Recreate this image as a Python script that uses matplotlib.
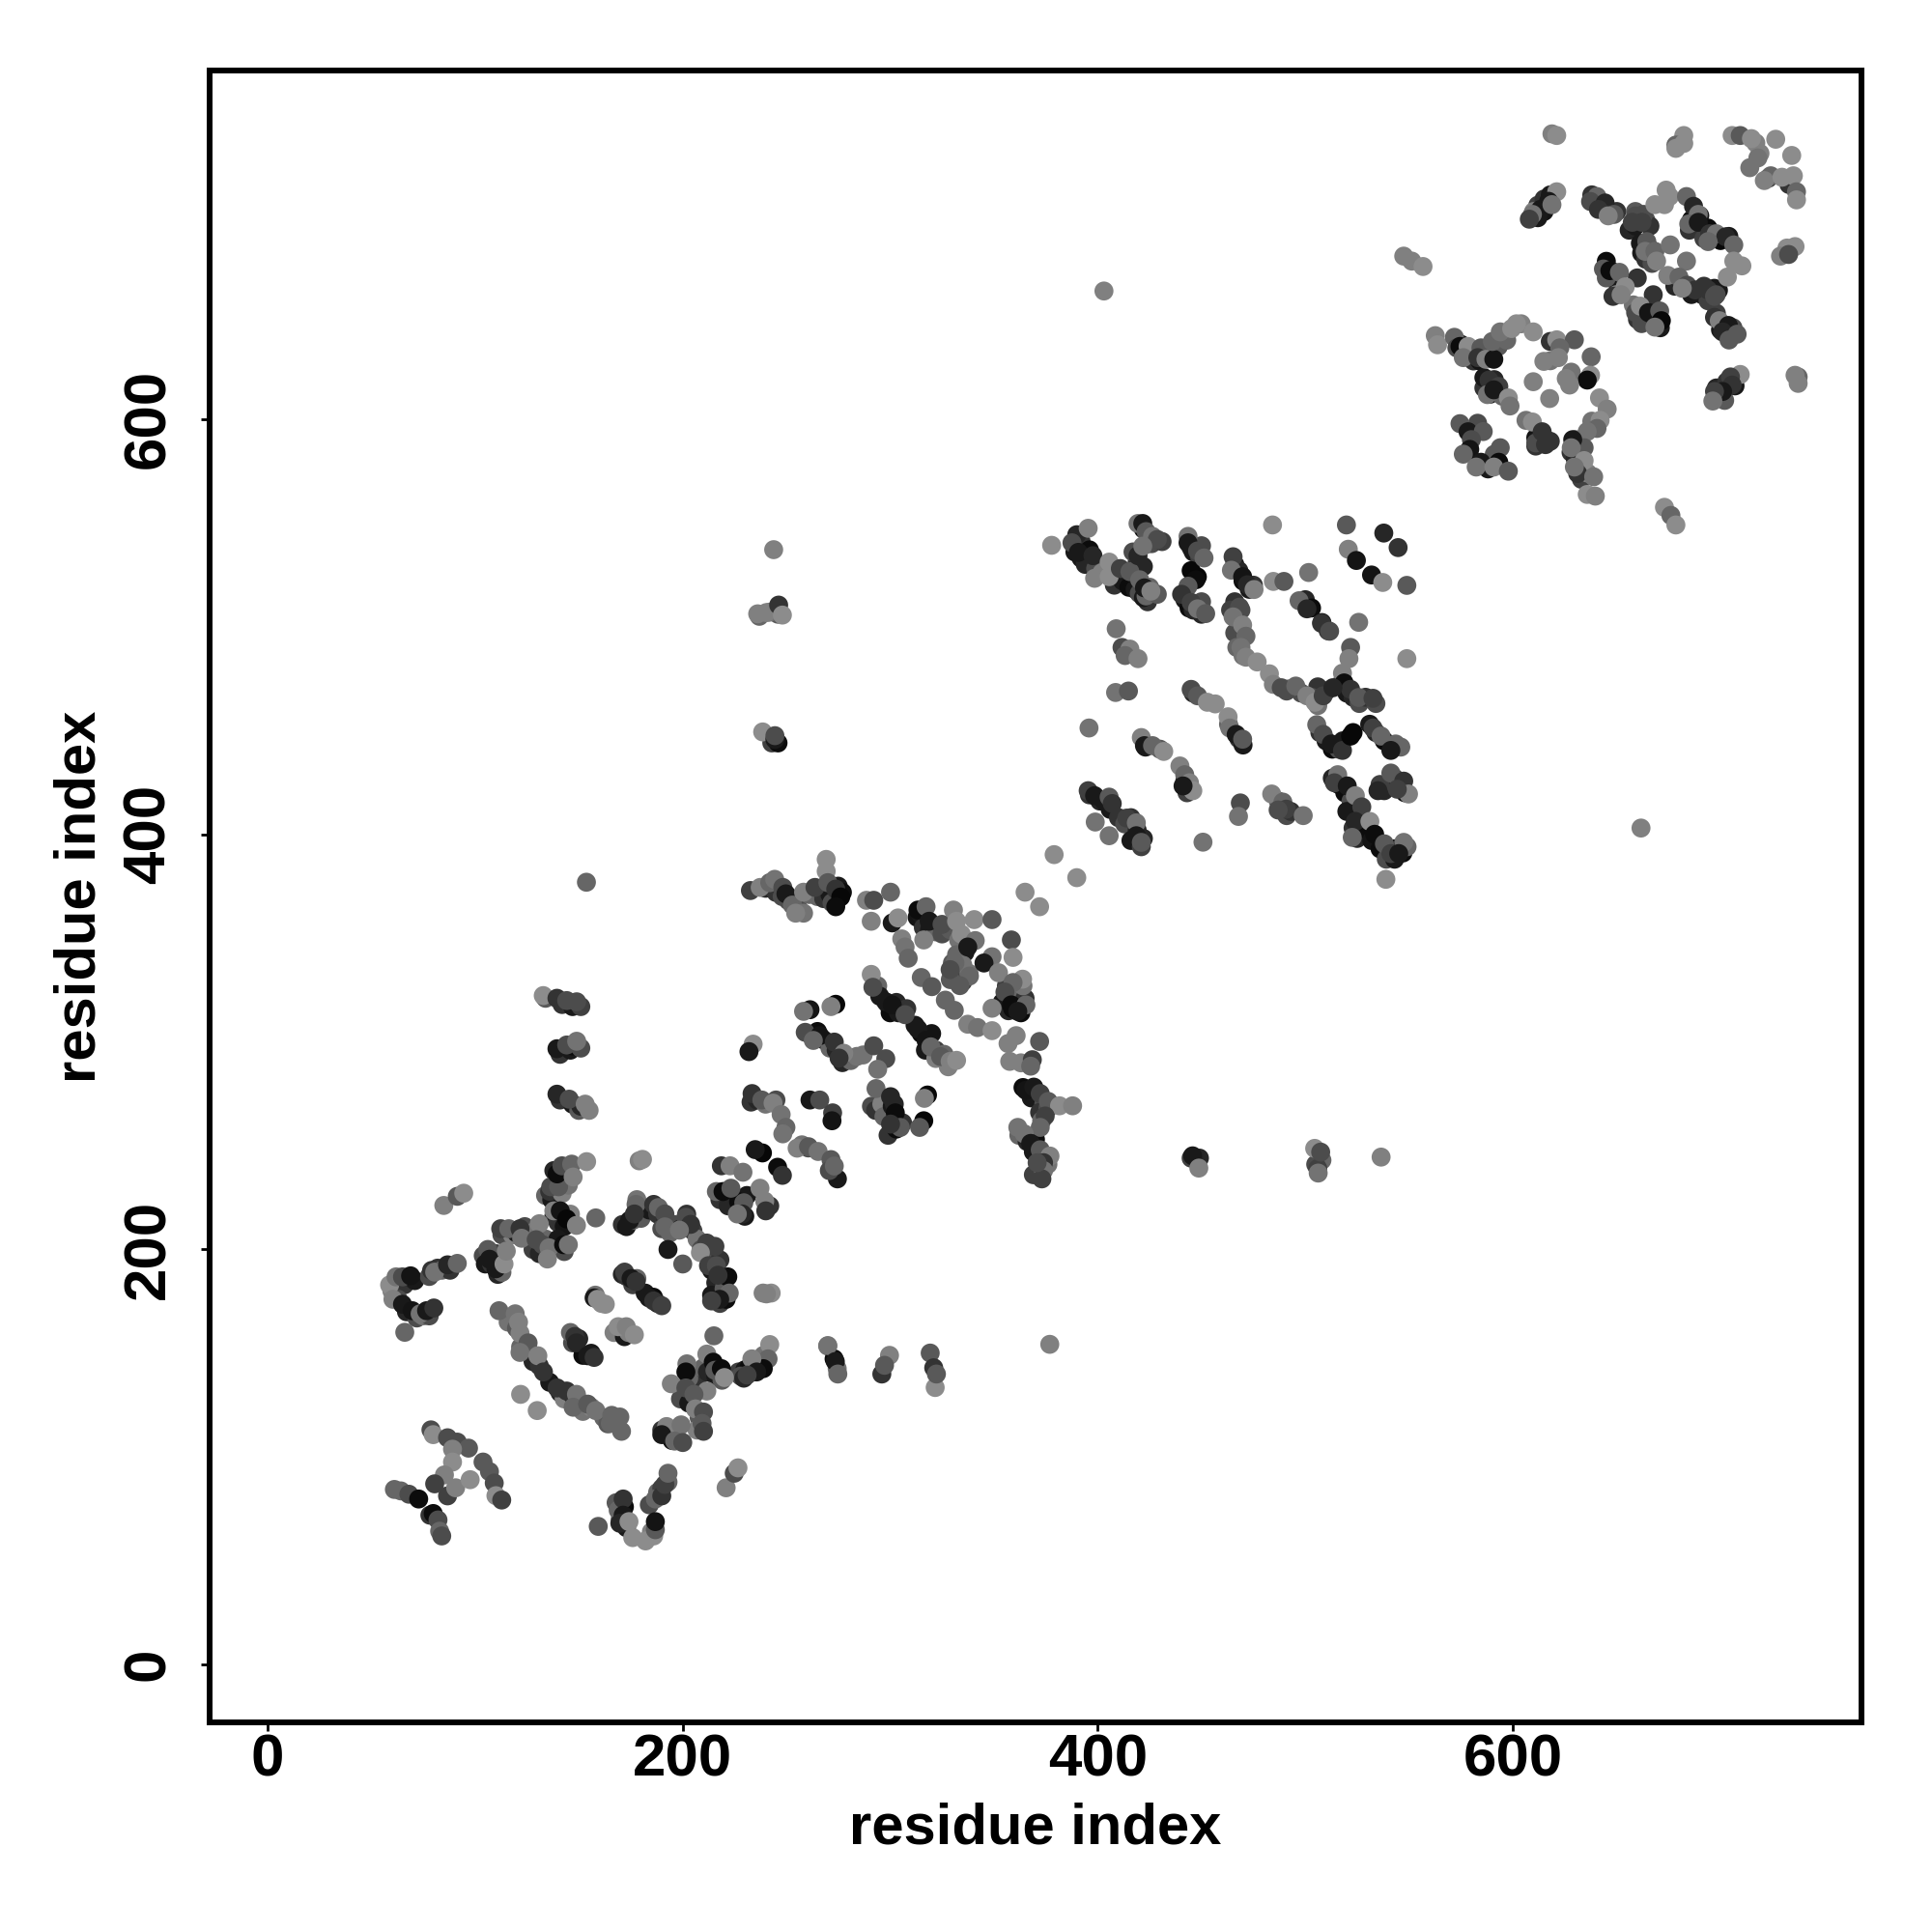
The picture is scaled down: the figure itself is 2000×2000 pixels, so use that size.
import matplotlib
matplotlib.use("Agg")
import matplotlib.pyplot as plt
import numpy as np

# values: residue i, residue j, grey level of the dot
x_a = [61.2,64.3,68.2,72.9,78.3,79.9,82.2,83,84,78.8,79.9,86.8,91.5,96.9,89.2,89.2,85.3,80.6,86.8,90.7,97.7,103.9,107,109.3,110.1,112.9]
y_a = [84.4,83.7,82.1,79.8,72,72.8,69.7,64.3,62,113.1,110.8,109.3,107.2,104.3,103.8,97.6,91.4,87.1,81.3,85.2,89.1,97.6,93,87.5,81.4,79.3]
g_a = [.4,.4,.3,.05,.2,.05,.3,.4,.3,.3,.55,.3,.3,.35,.5,.55,.5,.25,.25,.5,.55,.35,.35,.3,.55,.25]

x_b = [159.4,169,171.4,171.4,169.8,174.2,176,182.2,186.1,186.9,186.9,186.9,190,191.5,193,221,224.9,226.7,122,130]
y_b = [66.6,74.4,79.8,72,68.1,68.9,61.2,59.6,62,65,68.9,79.8,81.3,86.8,92.2,85.2,92.2,94.8,130.2,122.4]
g_b = [.35,.4,.2,.1,.15,.55,.55,.55,.55,.35,.08,.4,.2,.25,.4,.5,.3,.55,.55,.55]

x_c = [85,91.5,94.6,58.9,62,65.1,69,60.5,65.1,69.8,73.6,76.7,80.2,66.2,79.1,80.6,86.8,91.5,106.2,107,110.1,114,115.1,112.4,116.3,121.7,122.5,131,129.5,132.6,135.7,134.9,142.7,145,138,141.1,144.2,148.9,158.2,136.5,140.3,139.6,141.9,146.6,147.3,153.8,179.1,180.7]
y_c = [221.2,225.6,227.1,182.9,186.8,186.8,187.3,176,173.6,170.5,169,170.5,171.8,160.1,189.9,189.1,192.6,193.3,200,195.3,190.7,193,199.2,210,210,210,205.4,212.4,204.7,202.3,200.8,195.4,202.3,202.3,218.6,218.6,214.7,211.6,215.2,230.2,230.2,236.4,240.3,241.1,234.9,242.3,242.7,243.4]
g_c = [.5,.35,.55,.55,.45,.3,.08,.5,.1,.08,.45,.1,.2,.4,.2,.45,.15,.4,.35,.1,.1,.55,.5,.25,.4,.2,.45,.5,.3,.3,.45,.5,.05,.45,.5,.08,.03,.5,.4,.3,.35,.05,.3,.4,.5,.55,.5,.55]

x_d = [174.5,177.6,176.8,186.1,188.4,191.5,191.5,201.6,203.9,198.5,193,200.1,211.7,215.6,208.6,212.5,216.3,221.8,217.1,222.5,217.9,214,218.7,222.9,229.1,238.5,235,245.8,248.1,216.3,219.5,223.3,229.5,228.8,226.4,237.3,239.6,240.1,257.5,260.6,269.9,273,274.5,242.7,238.8]
y_d = [214,221.7,217.1,221.7,220.2,217.1,210.9,215.5,212.1,209.3,200,193,203.1,201.5,198.5,192.2,192.2,186.8,187.6,179,176,175.2,240.3,240.3,237.2,246.5,248.1,239.6,235.7,227.9,227.9,229.5,222.5,217.1,217.1,229.5,223.3,218.6,250.4,248.9,153.5,147.3,142.6,179,179]
g_d = [.1,.4,.2,.2,.4,.3,.4,.3,.2,.45,.1,.35,.25,.25,.55,.25,.3,.05,.2,.4,.1,.25,.2,.5,.45,.03,.1,.05,.2,.4,.05,.35,.35,.15,.45,.5,.5,.2,.45,.3,.45,.05,.45,.55,.5]

x_e = [172.1,175.2,177.6,183.8,186.1,190,157.4,159,162.8,169,172.9,176.8,148.1,148.9,154.3,157.4,111.6,119.4,121,121.7,125.6,121.7,130.3,133,139.6,144.2,148.9,147.3,154.3,158.2,165.9,169.8,170.6,165.2]
y_e = [189.1,186,184.5,176.7,175.2,172.9,176.7,176,173.6,162.8,162.8,158.9,158.1,155,148.8,148,170.5,169,165,159.7,155,150.4,148.8,141,133.3,131.8,130.2,124,125.5,122.4,120.1,119.3,112.4,116.2]
g_e = [.25,.1,.2,.1,.2,.25,.1,.55,.55,.55,.5,.55,.2,.15,.1,.2,.4,.45,.5,.5,.35,.45,.5,.2,.2,.2,.45,.4,.35,.45,.4,.4,.4,.4]

x_f = [215.1,242,241.2,238.9,233.4,235.7,229.5,231.1,211.7,214.8,215.6,218.7,220.2,202.1,201.6,194.6,201.6,211.7,205.5,206.2,210.1,209.4,210.1,192.3,199.3,190,196.2,200.1,270,273.6,274.8,296,299.7,297.3,319.3,321,321.7,322.3,240.4]
y_f = [158.4,154.2,147.3,142.6,147.3,141,138,139.5,149.6,145.7,141.8,142.6,138.3,144.9,141,135.3,133.3,131.8,130.2,123.2,121.7,116.2,112.4,114.7,115.5,110.8,107.7,107,153.7,146,140,140,149,144.2,150.1,143,133.5,140,178.6]
g_f = [.4,.55,.4,.05,.5,.1,.15,.25,.5,.05,.35,.05,.55,.45,.05,.5,.3,.5,.35,.5,.3,.35,.25,.5,.45,.1,.4,.3,.45,.1,.4,.2,.5,.35,.35,.2,.55,.35,.5]

x_g = [232.7,237.4,242,244.4,248.3,249.8,252.9,258.3,254.5,258.3,263.8,269.2,269.2,270,273.8,276.2,273.8,288.6,292.1,300.2,290.9,301,303.8,313.4,317.3,318.8,325,330.5,332,340.5,349.1,334.3,341,337.4,305.6,307.2,308.7,316.2,358.4,359.2,349.1,345.2,352.2,363.8,359.2,355.3,358.4,365.4,361.5,331.2,328.9,338.2,333.6,315,320.1,326.6,330.9,349.1,337.4,342.1,349.1,360.7,356.8,372,357.6,363,368.5,367.7]
y_g = [372.9,374.4,376.7,378.3,374.4,371.3,365.9,362,362,372.1,374.4,387.9,382.2,376.7,373.6,369.8,365.1,368.2,368.2,372.1,358.1,357.3,359.7,363.5,365.1,358.1,356.6,363.5,358.1,358.9,358.9,351.9,348.8,345.7,349.6,345.7,340.3,349.1,349.1,340.7,341,338,333.3,330.2,328.6,324,317.8,317.8,314.7,338,334.8,331.7,327.1,331,326.6,320.1,315.2,316.2,308.5,306.9,305.4,303,299.2,300.2,290.6,289.9,291.4,288.3]
g_g = [.25,.5,.4,.45,.3,.1,.4,.45,.5,.5,.25,.55,.55,.35,.2,.03,.05,.5,.3,.4,.5,.1,.55,.05,.4,.1,.3,.5,.55,.55,.35,.55,.45,.1,.5,.45,.4,.5,.3,.55,.45,.1,.5,.55,.4,.3,.05,.4,.1,.4,.3,.4,.35,.4,.35,.4,.4,.5,.5,.45,.55,.5,.5,.35,.5,.5,.25,.4]

x_h = [290.9,291.7,297.9,301,307.2,313.4,317.3,319.6,324.3,328.9,332,261.4,258.3,273.8,271.5,259.1,266.1,263,273.1,277.7,275.4,287,292.1,297.9,294,293.2,300.2,302.5,304.9,300.2,318,316.5,316.2,314.2,234,232,233.5,238.2,243.6,247.5,249.8,248.3,255.2,260.7,265.3,271.5,261.4,266.1,272.3,272,274.6,270.7,273.1]
y_h = [332.5,326.3,319.3,317.8,313.1,306.2,300.7,297.6,292.9,290.6,291.1,315.5,314.7,318.1,317,304.6,303,300.7,299.9,294.5,292.2,293.7,298.1,291.9,286.8,277.5,273.6,265.8,258.8,260.4,274.4,272.8,262,258.8,298.9,295.3,275.1,272,270.5,265,258.8,255.7,248.8,249.5,247.2,243.3,272,272,265.8,262,234,238,240.2]
g_h = [.55,.3,.1,.08,.3,.1,.08,.4,.35,.5,.55,.08,.45,.03,.5,.3,.08,.4,.2,.5,.2,.45,.3,.3,.45,.4,.15,.05,.35,.2,.03,.5,.03,.35,.55,.1,.2,.35,.5,.45,.4,.45,.5,.35,.45,.35,.1,.3,.25,.08,.1,.3,.4]

x_i = [365.4,369.2,372.3,376.2,381.6,387.9,374.7,372.3,361.5,364.6,367.7,372.3,377,373.9,373.9,373.1,370.8,379,389.9,365,372]
y_i = [276.7,278.2,275.1,271.3,269.2,269.2,264.3,258.8,258.8,255.7,251.1,248,245,241.8,238,234,241.8,390.2,379.1,372.1,365.1]
g_i = [.08,.1,.25,.35,.55,.5,.25,.4,.45,.45,.1,.35,.5,.2,.45,.25,.3,.55,.55,.55,.55]

x_j = [377.8,389.9,387.6,390.7,395.4,397.7,398.5,405.5,405.5,410.9,415.5,420.2,423.3,422.5,428.7,425.6,419.4,421.7,423.3,426.4,428.7,419.4,421.7,443.5,443.5,448.1,451.2,447.3,443.5,440.4,445,448.1,452,465.2,464.4,469.8,472.1,475.3,468.3,465.2,469.8,471.4,469,471.4,476.8,482.7,484.6,484.6,489.7,484.2,519.8,537.8,544.7,520.7,524.6,531.9,537.3,548.9,501.6,497,500.8,507.8,511.7,525.7,521.8,521,548.9]
y_j = [539.2,544.3,540.4,535.8,547.4,534.2,523.3,531.1,524.1,528,526.5,522.6,514.8,518.7,515.6,517.1,549.7,549.7,545.8,543.5,542,534.2,538.8,543.5,540.4,536.5,533.1,522.6,519.5,515.6,511.7,508.6,506.3,533.7,527.2,524.1,520.2,517.9,509.4,504.7,500.8,495.4,490,485.3,483,477.3,472.2,521.8,521.8,549,549,545.1,538.1,537.3,531.9,524.9,521.3,519.9,526.1,512.5,508.6,501.6,497.8,502.1,490,484.6,484.6]
g_j = [.55,.15,.3,.1,.5,.15,.5,.55,.55,.25,.35,.4,.4,.1,.35,.5,.45,.1,.35,.45,.3,.15,.45,.45,.1,.3,.4,.05,.35,.2,.25,.45,.35,.25,.45,.08,.15,.5,.3,.45,.5,.4,.45,.5,.55,.55,.5,.55,.35,.55,.35,.15,.2,.5,.08,.08,.55,.35,.45,.4,.15,.2,.3,.45,.35,.5,.55]

x_k = [517.9,518.7,521.8,525.7,532.6,488.4,495.4,500.8,504.7,508.6,513.3,505.5,508.6,512.5,517.9,521.8,532.6,536.5,543.5,541.2,515.6,514,520.2,524.1,527.2,524.1,531.1,522.6,533.4,538.1,541.2,547.4,545,541.2,547.4,535,549.7,544.3,538.8,483.8,489.2,490.8,486.9,499,468.7,467.8,450.7]
y_k = [477.6,472.9,469.8,465.9,465.5,470.6,471.4,466.7,463.6,466.7,470.6,452.8,448.1,443.5,440.4,447.3,451.2,447.3,443.5,440.4,428.7,424.8,423.3,418.6,413.2,406.2,406.2,398.5,400,395.4,390.7,396.1,390.7,429.5,425.6,421,419.4,421.7,378.3,419.4,415.5,412.1,411.7,409,415.1,408.6,396.2]
g_k = [.5,.05,.2,.35,.25,.3,.4,.5,.55,.25,.15,.4,.3,.1,.2,.03,.25,.4,.4,.1,.45,.25,.1,.5,.25,.15,.55,.4,.05,.35,.25,.45,.1,.35,.2,.15,.5,.25,.55,.5,.4,.25,.3,.45,.3,.45,.45]

x_l = [445,448.1,452.8,456.6,462.8,463.6,466.7,469.8,421,422.5,426.4,431.8,439.6,441.9,444.2,445.8,441.1,408.9,411.7,415.5,413.2,419.4,408.6,414.8,395.8,395.4,398.5,405.5,407,414,418.6,398.8,405.5,418.6,421]
y_l = [469.8,466.7,463.6,462.8,456.6,451.2,448.1,445.8,446.6,442.7,442.7,439.9,432.9,428.7,424.8,421,423.3,499,490,489.2,486.1,484.6,468.3,469,451.2,421,418.6,417.9,414.8,407.8,405.5,405.9,399.3,399.3,396.1]
g_l = [.3,.35,.55,.55,.55,.45,.1,.35,.5,.1,.4,.55,.5,.4,.5,.55,.1,.45,.3,.5,.4,.5,.45,.35,.45,.25,.1,.35,.2,.25,.45,.45,.45,.1,.35]

x_m = [547.4,551.3,556.7,618.8,621.1,621.1,617.2,613.3,609.4,607.9,618.8,640.5,637.4,644.4,641.2,648.7,645.9,659.1,663,662.2,657.5,668.4,673.8,675.4,673,683.6,687,689.3,684.7,689.3,694.8,697.9,702.5,706.4,694,661.4,664.5,663.7,668.4,669.2,675.8,683.6,674.6,680,683.9,687.8,681.6,694,697.9,697.1,703.3,706.4,710.3]
y_m = [678.5,676.1,673.5,737.4,736.6,709.5,704.9,701,698.6,696.3,703.3,707.2,704.8,704.1,701,698.6,697.9,697.9,698.6,694.8,694.8,703.3,710.3,707.2,703.3,707.2,702.5,698.6,694,694.8,689.3,689.3,687.8,683.9,685.5,684.7,685.5,680.8,680.8,676.1,683.9,676.1,669.2,668.4,664.5,662.2,663,662.2,659.9,659.1,668.4,676.1,673.8]
g_m = [.5,.5,.55,.5,.55,.55,.1,.1,.45,.25,.45,.4,.3,.15,.2,.35,.5,.3,.3,.25,.25,.55,.55,.55,.55,.4,.15,.45,.4,.1,.2,.45,.15,.4,.4,.1,.35,.45,.4,.5,.45,.45,.5,.4,.3,.2,.5,.2,.3,.3,.55,.55,.55]

x_n = [643.6,646.7,651.3,659.9,654.1,648.2,652.1,667.6,659.1,661.4,665.3,670.7,671.5,668.4,697.1,699.4,703.8,701,708,704.1,709.5,704.8,705.6,701,697.1,696.3,737.4,735.9,737.4,673,676.1,678.5,682.3,678.5,678.5,682.3,705.6,709.5,714.9,726.6,734.3,718,714.1,724.2,721.1,729.6,735.1,736.6,736.6,735.9,732,728.9,732.8]
y_n = [672.3,671.5,670.7,668,663.7,659.1,659.9,659.9,651.3,654.4,651.3,652.1,647.4,644.3,649,647.4,645.1,642,640.9,638.1,621.5,620.3,616.4,613.3,613.3,608.7,620.3,621.1,617.2,557.5,553.6,549,736.6,732,730.4,732.8,736.6,736.6,735.1,734.8,727,725.8,721.1,717.2,714.9,716.5,717.2,709.5,705.6,683.1,682.4,678.5,679.3]
g_n = [.35,.05,.4,.2,.55,.2,.5,.2,.3,.55,.08,.35,.03,.45,.2,.5,.1,.15,.35,.35,.55,.25,.2,.1,.25,.45,.4,.5,.5,.55,.4,.55,.55,.4,.55,.55,.55,.35,.55,.55,.55,.45,.45,.4,.5,.55,.55,.4,.55,.55,.55,.5,.3]

x_o = [562.6,563.7,571.8,573,574.5,578.4,576.1,584.6,583.1,587,590.8,590.1,593.9,599.4,604,601.7,609.8,618,621.1,629.6,622.6,618,621.9,614.9,637.7,628.1,625.7,637.4,635.8,627.3,609.8,617.7,588.5,593.2,587.7,590.8,597.8,598.6]
y_o = [640.2,635.8,639.4,634.3,635,635,629.6,634.3,629.6,628.8,628.8,637.4,642,643.6,645.9,645.9,642,637.4,638.2,638.2,634.3,628.1,629.6,627.8,630,622.6,619.5,621.1,618.8,616.4,618,609.9,618.8,615.7,611.8,614.1,610.2,606.3]
g_o = [.5,.55,.4,.3,.05,.55,.45,.35,.2,.5,.08,.4,.45,.55,.5,.55,.55,.2,.55,.35,.4,.45,.5,.5,.4,.45,.5,.55,.05,.5,.5,.5,.2,.25,.45,.1,.55,.45]

x_p = [641.7,645.4,642,640.5,635.8,634.3,628.8,628.1,634.3,631.2,629.6,638.9,635.8,639.7,606.3,609.4,611,614.1,618,615.7,574.5,578.4,585.7,580,579.2,576.1,593.9,584.6,582.3,593.2,590.8,597.8]
y_p = [610.2,604.8,599.4,595.5,594,586.2,590.1,586.2,580,573.8,576.9,572.2,563.7,562.9,599.4,598.6,588.5,593.9,589.3,587.7,597.8,593.9,594,590.1,585.4,583.1,586.2,579.2,576.9,579.2,576.9,574.9]
g_p = [.55,.5,.55,.4,.45,.35,.1,.45,.55,.2,.45,.45,.55,.5,.45,.55,.3,.2,.2,.2,.35,.1,.35,.3,.08,.4,.35,.1,.45,.05,.5,.35]

x_q = [132.9,139.5,144.2,149,139.5,144.2,149,139.5,145.4,153.1,153.7,243.9,236.2,240.4,246.3,248.1,238.6,244.5,244.5,376.9,403,661.7,445.7,448.7,504.5,507.4,506.2,536.5]
y_q = [322.3,321,319.9,319.3,296.7,298.5,300.3,274.8,272.4,270,376.9,537.1,506.2,506.8,510.4,505.6,449.3,445.7,447.5,154.3,661.7,403,245.1,239.2,248.7,246.9,236.8,244.5]
g_q = [.55,.2,.3,.3,.1,.3,.45,.15,.3,.5,.4,.5,.5,.5,.2,.55,.55,.1,.3,.5,.5,.5,.1,.5,.55,.3,.45,.5]

# more contacts hidden in the thick strokes, these go underneath
x_r = [60,63,66,71,63,67,72,75,78,78,82,84,88,104,105,108,111,113,110,113,118,120,124,127,128,131,134,138,140,143,146,140,143,134,137,136,139,142,144,138,142,145]
y_r = [180,183,183,185,176,170,167,168,168,187,191,190,190,197,193,193,188,189,198,207,207,208,211,208,200,198,205,216,213,211,217,205,199,226,224,228,231,233,238,238,227,231]
g_r = [.5,.4,.2,.1,.3,.15,.3,.45,.3,.3,.2,.4,.2,.3,.1,.2,.15,.4,.25,.3,.5,.1,.3,.45,.25,.15,.4,.1,.2,.08,.5,.1,.3,.4,.1,.2,.25,.15,.4,.15,.5,.45]

x_s = [171,173,176,178,180,184,188,192,190,194,196,199,202,201,205,207,209,212,214,218,214,216,220,214,218,221,220,171,173,176,178,182,186,188,158,161,167,172,174,147,150,152,156,146]
y_s = [212,211,214,224,215,219,217,214,210,208,212,210,217,211,209,205,200,198,197,195,190,184,184,178,174,176,181,188,187,183,186,179,177,174,178,174,160,158,160,155,157,149,150,160]
g_s = [.2,.1,.4,.45,.35,.1,.2,.15,.3,.4,.3,.15,.2,.4,.25,.45,.3,.1,.3,.2,.1,.15,.2,.1,.25,.05,.35,.15,.2,.25,.4,.1,.05,.15,.45,.55,.5,.1,.5,.3,.15,.05,.1,.4]

x_t = [116,120,122,126,128,131,136,141,143,147,150,152,156,162,164,168,170,168,173,172,185,184,188,190,193,227,230,232,234,236,239,238,228,205,207,210,212,216,219,199,203,208,203,207,193,195,190,197]
y_t = [165,162,153,151,146,144,136,131,128,130,127,122,124,119,116,116,70,78,66,76,64,77,83,85,88,141,142,143,141,144,149,143,139,138,137,143,141,139,137,128,126,119,138,113,112,108,113,110]
g_t = [.45,.35,.4,.3,.15,.2,.1,.15,.5,.1,.3,.45,.5,.4,.35,.5,.3,.35,.1,.05,.5,.3,.4,.25,.4,.25,.1,.05,.2,.05,.45,.15,.3,.3,.2,.4,.15,.1,.35,.3,.1,.35,.4,.5,.25,.05,.2,.3]

x_u = [231,218,222,230,227,242,134,142,147,151,141,146,147,151,141,147,150,151,155,243,246,246,242,237,445,449,508,505,506]
y_u = [226,224,221,216,223,221,321,318,317,317,294,296,298,297,272,270,267,269,267,444,444,506,507,505,244,244,243,241,239]
g_u = [.1,.2,.15,.1,.05,.2,.35,.2,.1,.25,.2,.1,.05,.3,.2,.1,.35,.15,.5,.25,.05,.35,.45,.4,.25,.15,.4,.3,.25]

x_v = [240,245,248,251,256,253,261,265,268,271,275,272,277,313,315,316,319,322,325,329,333,336,356,354,357,360,362,365,359,363,364,330,332,335,333,335,338,329]
y_v = [374,372,370,368,364,369,371,370,369,371,375,367,372,360,361,355,354,353,352,354,349,343,327,319,315,320,322,321,316,314,327,338,342,337,331,329,333,330]
g_v = [.15,.2,.3,.3,.3,.45,.4,.4,.2,.1,.1,.3,.05,.08,.1,.2,.1,.4,.3,.35,.45,.1,.25,.1,.15,.08,.4,.2,.05,.05,.45,.35,.4,.45,.3,.25,.45,.35]

x_w = [294,295,299,300,303,304,308,312,315,317,320,322,326,322,328,262,265,268,271,274,277,281,284,291,293,296,297,301,303,299,303,302,306,245,233,236,240,364,368,374,372,373,376,362,366,369,370,373,376,369,373]
y_w = [327,322,318,314,319,314,316,308,304,296,304,296,294,292,288,303,305,301,297,296,290,291,293,269,267,270,264,269,262,255,258,270,261,272,271,272,270,278,273,270,266,262,268,255,252,247,253,245,241,236,244]
g_w = [.4,.1,.2,.05,.15,.1,.2,.1,.05,.1,.08,.25,.4,.5,.5,.2,.05,.1,.4,.15,.15,.4,.45,.3,.2,.5,.4,.1,.05,.2,.05,.15,.2,.3,.2,.15,.45,.05,.1,.3,.2,.4,.3,.4,.15,.1,.05,.2,.45,.25,.1]

x_x = [389,392,394,399,402,392,396,408,412,415,418,420,424,422,425,422,424,426,431,419,422,417,445,446,449,450,442,444,446,450,450,448,445,466,468,470,473,475,466,469,464,466,467,470,500,503,508,511]
y_x = [536,533,530,528,526,541,537,520,522,519,518,516,512,514,519,547,540,540,541,531,529,536,538,536,534,539,513,509,508,512,506,524,527,530,527,522,518,520,512,508,508,497,490,486,513,509,502,498]
g_x = [.1,.1,.15,.3,.5,.2,.05,.2,.1,.05,.1,.3,.2,.1,.4,.05,.1,.3,.25,.2,.15,.3,.15,.1,.25,.3,.1,.05,.15,.3,.15,.03,.03,.1,.15,.05,.1,.2,.2,.3,.25,.3,.4,.45,.15,.05,.1,.2]

x_y = [518,520,523,526,529,534,510,506,503,498,492,506,507,510,513,516,518,523,531,534,538,541,546,513,516,519,522,520,523,527,525,530,532,536,540,539,543,547,549,543,543,546,548,538,536]
y_y = [474,468,466,463,466,463,469,471,466,468,470,462,449,445,441,441,445,449,453,449,445,442,442,427,424,420,416,411,403,407,398,402,397,393,391,388,388,391,394,393,427,424,420,421,424]
g_y = [.25,.1,.15,.3,.2,.3,.1,.2,.3,.3,.4,.45,.2,.1,.05,.3,.1,.03,.1,.15,.05,.03,.4,.15,.1,.05,.3,.1,.2,.15,.15,.05,.08,.05,.1,.3,.1,.05,.4,.05,.25,.1,.05,.15,.25]

x_z = [491,446,463,468,470,396,401,403,406,410,413,416,419,422,416,421,423,430,442,443,487,491,493]
y_z = [469,468,453,446,443,419,416,416,412,408,405,408,402,398,397,394,442,441,426,420,416,409,411]
g_z = [.3,.15,.4,.2,.1,.2,.15,.1,.1,.2,.3,.2,.15,.15,.1,.25,.1,.35,.1,.25,.35,.3,.2]

x_aa = [612,615,612,615,618,610,638,646,650,656,659,661,664,666,659,662,664,667,666,685,686,690,694,692,700,704,678,683,686,691,694,699,697,692]
y_aa = [703,700,697,706,708,700,708,700,700,691,693,696,696,693,700,680,677,675,682,691,696,698,692,687,686,688,664,664,660,660,657,662,663,664]
g_aa = [.25,.08,.1,.2,.1,.5,.2,.05,.2,.15,.1,.2,.35,.2,.35,.1,.2,.3,.05,.2,.05,.08,.05,.25,.03,.1,.15,.05,.1,.1,.25,.1,.1,.2]

x_ab = [645,650,648,645,650,658,660,662,667,668,671,698,700,703,706,698,700,703,707,702,717,719,723,733]
y_ab = [676,666,671,668,660,655,648,646,654,649,644,651,643,641,644,615,610,618,616,609,733,728,716,713]
g_ab = [.05,.1,.2,.35,.45,.45,.2,.3,.1,.2,.1,.25,.1,.2,.3,.15,.1,.2,.1,.35,.5,.5,.2,.2]

x_ac = [575,577,581,584,587,593,597,589,586,591,586,595,630,628,630,632,633,636,632,638,611,613,616,611,581,583,588,583,591]
y_ac = [636,631,628,628,633,635,638,612,615,619,620,611,590,584,581,578,571,574,590,599,591,591,590,587,593,598,576,578,583]
g_ac = [.1,.1,.2,.08,.2,.35,.4,.1,.2,.15,.1,.4,.1,.2,.15,.1,.25,.5,.4,.45,.08,.1,.15,.2,.2,.3,.1,.08,.35]

ticks = [0, 200, 400, 600]

xs = np.concatenate([x_r,x_s,x_t,x_u,x_v,x_w,x_x,x_y,x_z,x_aa,x_ab,x_ac,x_a,x_b,x_c,x_d,x_e,x_f,x_g,x_h,x_i,x_j,x_k,x_l,x_m,x_n,x_o,x_p,x_q])
ys = np.concatenate([y_r,y_s,y_t,y_u,y_v,y_w,y_x,y_y,y_z,y_aa,y_ab,y_ac,y_a,y_b,y_c,y_d,y_e,y_f,y_g,y_h,y_i,y_j,y_k,y_l,y_m,y_n,y_o,y_p,y_q])
gs = np.concatenate([g_r,g_s,g_t,g_u,g_v,g_w,g_x,g_y,g_z,g_aa,g_ab,g_ac,g_a,g_b,g_c,g_d,g_e,g_f,g_g,g_h,g_i,g_j,g_k,g_l,g_m,g_n,g_o,g_p,g_q])

plt.rcParams['font.family'] = ['Liberation Sans', 'DejaVu Sans']
plt.rcParams['font.weight'] = 'bold'

fig = plt.figure(figsize=(20, 20), dpi=100)
ax = fig.add_axes([0.1084, 0.1084, 0.8552, 0.8552])
ax.scatter(xs, ys, s=200, c=gs, cmap='gray', vmin=0, vmax=1.0, linewidths=0)
ax.set_xlim(-27.9, 768)
ax.set_ylim(-27.9, 768)
ax.set_xticks(ticks)
ax.set_yticks(ticks)
ax.tick_params(width=2, length=6.2, labelsize=44.5)
ax.tick_params(axis='x', pad=2)
ax.tick_params(axis='y', pad=18)
for lab in ax.get_yticklabels():
    lab.set_rotation(90)
    lab.set_va('center')
for s in ax.spines.values():
    s.set_linewidth(4.3)
ax.set_xlabel("residue index", fontsize=43, fontweight='bold', labelpad=10)
ax.set_ylabel("residue index", fontsize=43, fontweight='bold', labelpad=11.5)
fig.savefig("out.png", dpi=100)
